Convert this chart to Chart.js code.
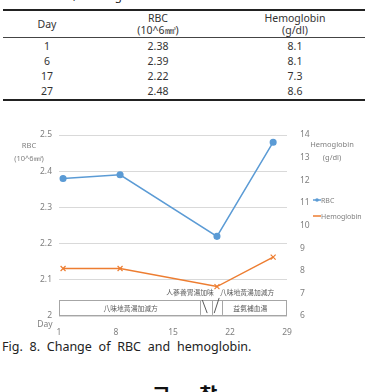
<!DOCTYPE html>
<html>
<head>
<meta charset="utf-8">
<script src="https://cdn.jsdelivr.net/npm/chart.js@4"></script>
<style>
  html, body { margin: 0; padding: 0; background: #fff; }
  body { width: 367px; height: 392px; position: relative; overflow: hidden; font-family: 'Noto Sans', sans-serif; color: #333; }
  #tcap { position: absolute; left: 1px; top: -12px; font-size: 11.5px; word-spacing: 3px; color: #222; }
  #tbl { position: absolute; left: 3px; top: 9px; width: 362px; border-collapse: collapse; font-size: 10.5px; border-top: 2px solid #222; border-bottom: 2px solid #222; }
  #tbl th { font-weight: normal; line-height: 12.5px; height: 26px; padding: 0; border-bottom: 1px solid #444; }
  #tbl td { text-align: center; height: 15.2px; padding: 0; line-height: 14px; }
  #chartBox { position: absolute; left: 0; top: 110px; width: 367px; height: 225px; }
  #figcap { position: absolute; left: 2px; top: 338px; font-size: 12.5px; word-spacing: 3.5px; color: #222; }
  #sect { position: absolute; left: 152px; top: 380px; font-size: 20px; font-weight: bold; font-family: 'Noto Sans CJK KR', sans-serif; word-spacing: 24px; color: #111; }
</style>
</head>
<body>
<div id="tcap">Table 6. RBC, Hemoglobin</div>
<table id="tbl">
  <thead>
    <tr><th style="width:88px">Day</th><th style="width:134px">RBC<br>(10^6㎣)</th><th>Hemoglobin<br>(g/dl)</th></tr>
  </thead>
  <tbody id="tbody"></tbody>
</table>
<div id="chartBox"><canvas id="chart"></canvas></div>
<div id="figcap">Fig. 8. Change of RBC and hemoglobin.</div>
<div id="sect">고 찰</div>
<script>
// table values
const tableDays = [1, 6, 17, 27];
const rbcValues = [2.38, 2.39, 2.22, 2.48];
const hbValues = [8.1, 8.1, 7.3, 8.6];

// where the points sit on the day axis in the figure
const chartDays = [1.5, 8.5, 20.4, 27.3];
const dayTicks = [1, 8, 15, 22, 29];
const rbcTicks = [2, 2.1, 2.2, 2.3, 2.4, 2.5];
const hbTicks = [6, 7, 8, 9, 10, 11, 12, 13, 14];

// treatment periods under the lines
const periodBounds = [1, 18.3, 19.8, 21, 28.9];
const lowerLabels = ['八味地黃湯加減方', '', '', '益氣補血湯'];
const upperLabels = ['人蔘養胃湯加味', '八味地黃湯加減方'];

const tbody = document.getElementById('tbody');
tableDays.forEach((d, i) => {
  const tr = document.createElement('tr');
  tr.innerHTML = '<td>' + d + '</td><td>' + rbcValues[i].toFixed(2) + '</td><td>' + hbValues[i].toFixed(1) + '</td>';
  tbody.appendChild(tr);
});

const blue = '#5b9bd5';
const orange = '#ed7d31';
const tickColor = '#7f7f7f';

const extras = {
  id: 'extras',
  afterDraw(chart) {
    const c = chart.ctx;
    const x = chart.scales.x;
    const y = chart.scales.y;
    c.save();
    // period boxes
    c.strokeStyle = '#a6a6a6';
    c.lineWidth = 1;
    const top = y.getPixelForValue(2.044);
    const bot = y.getPixelForValue(2.003);
    const x0 = x.getPixelForValue(periodBounds[0]);
    const x1 = x.getPixelForValue(periodBounds[periodBounds.length - 1]);
    c.strokeRect(Math.round(x0) + 0.5, Math.round(top) + 0.5, Math.round(x1 - x0), Math.round(bot - top));
    for (let i = 1; i < periodBounds.length - 1; i++) {
      const px = Math.round(x.getPixelForValue(periodBounds[i])) + 0.5;
      c.beginPath(); c.moveTo(px, top); c.lineTo(px, bot); c.stroke();
    }
    c.strokeStyle = '#595959';
    c.beginPath();
    c.moveTo(x.getPixelForValue(18.6), y.getPixelForValue(2.044));
    c.lineTo(x.getPixelForValue(19.2), y.getPixelForValue(2.008));
    c.moveTo(x.getPixelForValue(20.67), y.getPixelForValue(2.05));
    c.lineTo(x.getPixelForValue(20.06), y.getPixelForValue(2.008));
    c.stroke();

    c.fillStyle = '#595959';
    c.font = '6.8px "Noto Sans CJK TC"';
    c.textAlign = 'center';
    c.textBaseline = 'middle';
    const ly = y.getPixelForValue(2.021);
    c.fillText(lowerLabels[0], x.getPixelForValue(9.8), ly);
    c.fillText(lowerLabels[3], x.getPixelForValue(24.5), ly);
    const uy = y.getPixelForValue(2.066);
    c.fillText(upperLabels[0], x.getPixelForValue(17.1), uy);
    c.fillText(upperLabels[1], x.getPixelForValue(24.1), uy);

    // axis titles
    c.fillStyle = tickColor;
    c.font = '7.5px "Noto Sans"';
    c.fillText('RBC', 29, 36);
    c.fillText('(10^6㎣)', 29, 49);
    c.fillText('Hemoglobin', 332, 35);
    c.fillText('(g/dl)', 332, 48);
    c.font = '8.5px "Noto Sans"';
    c.fillText('Day', 45, 215);

    // legend
    c.font = '7px "Noto Sans"';
    c.textAlign = 'left';
    const items = [['RBC', blue, 'circle', 90], ['Hemoglobin', orange, 'cross', 106]];
    items.forEach(([label, col, mk, ly2]) => {
      c.strokeStyle = col;
      c.lineWidth = 1.5;
      c.beginPath(); c.moveTo(313, ly2); c.lineTo(321, ly2); c.stroke();
      if (mk === 'circle') {
        c.fillStyle = col;
        c.beginPath(); c.arc(317, ly2, 1.8, 0, Math.PI * 2); c.fill();
      }
      c.fillStyle = tickColor;
      c.fillText(label, 321, ly2 + 0.5);
    });
    c.restore();
  }
};

new Chart(document.getElementById('chart'), {
  type: 'line',
  data: {
    datasets: [{
      label: 'RBC',
      data: chartDays.map((d, i) => ({ x: d, y: rbcValues[i] })),
      yAxisID: 'y',
      borderColor: blue,
      backgroundColor: blue,
      borderWidth: 1.5,
      pointStyle: 'circle',
      pointRadius: 2.8,
      tension: 0
    }, {
      label: 'Hemoglobin',
      data: chartDays.map((d, i) => ({ x: d, y: hbValues[i] })),
      yAxisID: 'y1',
      borderColor: orange,
      backgroundColor: orange,
      borderWidth: 1.5,
      pointStyle: 'crossRot',
      pointRadius: 3.5,
      pointBorderWidth: 1.2,
      tension: 0
    }]
  },
  options: {
    responsive: true,
    maintainAspectRatio: false,
    animation: false,
    layout: { padding: { top: 25, left: 0, right: 0, bottom: 0 } },
    plugins: { legend: { display: false }, tooltip: { enabled: false } },
    scales: {
      x: {
        type: 'linear',
        min: 1, max: 29,
        afterBuildTicks: s => { s.ticks = dayTicks.map(v => ({ value: v })); },
        afterFit: s => { s.height = 19; },
        grid: { display: false },
        border: { display: false },
        ticks: { color: tickColor, font: { size: 8.5, family: 'Noto Sans' }, padding: 3, maxRotation: 0, autoSkip: false }
      },
      y: {
        position: 'left',
        min: 2, max: 2.5,
        afterBuildTicks: s => { s.ticks = rbcTicks.map(v => ({ value: v })); },
        afterFit: s => { s.width = 59; },
        grid: { color: '#d9d9d9', drawTicks: false },
        border: { display: false },
        ticks: { color: tickColor, font: { size: 8.5, family: 'Noto Sans' }, padding: 7, callback: v => String(Math.round(v * 10) / 10) }
      },
      y1: {
        position: 'right',
        min: 6, max: 14,
        afterBuildTicks: s => { s.ticks = hbTicks.map(v => ({ value: v })); },
        afterFit: s => { s.width = 80; },
        grid: { drawOnChartArea: false, drawTicks: false },
        border: { display: false },
        ticks: { color: tickColor, font: { size: 8.5, family: 'Noto Sans' }, padding: 13 }
      }
    }
  },
  plugins: [extras]
});
</script>
</body>
</html>
